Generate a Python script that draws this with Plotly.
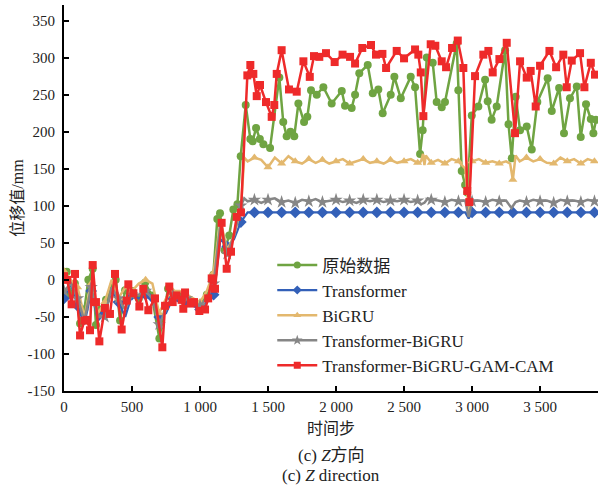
import plotly.graph_objects as go

# ---------------- data ----------------
orig_x = [0, 20, 50, 80, 118, 150, 179, 211, 235, 270, 309, 363, 380, 412, 449, 500, 550, 596, 645, 701,
          743, 765, 800, 850, 900, 950, 1000, 1050, 1098, 1127, 1147, 1180, 1215, 1245, 1275, 1299, 1336,
          1370, 1387, 1412, 1440, 1466, 1515, 1583, 1612, 1637, 1665, 1693, 1723, 1765, 1789, 1816, 1858,
          1907, 1968, 2042, 2066, 2115, 2140, 2171, 2233, 2270, 2311, 2343, 2402, 2429, 2476, 2549, 2581,
          2618, 2637, 2667, 2711, 2740, 2777, 2801, 2887, 2899, 2924, 2949, 2965, 2998, 3046, 3096, 3115,
          3144, 3181, 3243, 3268, 3292, 3321, 3353, 3402, 3439, 3480, 3556, 3586, 3640, 3676, 3720, 3770,
          3799, 3838, 3873, 3892, 3912]
orig_y = [5, 11, -20, -5, -59, -40, 0, 15, -61, -40, -27, -8, 0, -55, -14, -15, -25, -4, -21, -79,
          -35, -12, -25, -22, -28, -30, -35, -20, 7, 82, 90, 40, 60, 95, 102, 167, 236,
          190, 187, 205, 190, 183, 178, 273, 213, 194, 200, 194, 238, 213, 220, 256, 250,
          260, 238, 255, 235, 232, 250, 279, 290, 252, 257, 225, 250, 274, 245, 274, 260,
          170, 202, 300, 293, 240, 233, 240, 319, 256, 147, 128, 118, 222, 234, 270, 241,
          216, 234, 310, 210, 164, 247, 202, 207, 176, 240, 272, 228, 259, 198, 245, 261,
          193, 237, 217, 198, 216]

transformer_x = [0, 50, 100, 150, 200, 250, 300, 350, 400, 450, 500, 550, 600, 650, 700, 750, 800, 850,
                 900, 950, 1000, 1050, 1100, 1150, 1200, 1250, 1300, 1350, 1400, 1500, 1600, 1700, 1800,
                 1900, 2000, 2100, 2200, 2300, 2400, 2500, 2600, 2700, 2800, 2900, 2950, 2975, 3000, 3100,
                 3200, 3300, 3400, 3500, 3600, 3700, 3800, 3900]
transformer_y = [-25, -5, -35, -60, -15, -55, -45, -15, -30, -50, -20, -25, -20, -30, -50, -45, -25, -30,
                 -30, -35, -40, -30, -20, 55, 45, 55, 78, 91, 91, 91, 91, 91, 91,
                 91, 91, 91, 91, 91, 91, 91, 91, 91, 91, 91, 91, 83, 91, 91,
                 91, 91, 91, 91, 91, 91, 91, 91]

bigru_x = [0, 50, 100, 150, 200, 250, 300, 350, 400, 450, 500, 550, 600, 650, 700, 750, 800, 850, 900,
           950, 1000, 1050, 1100, 1150, 1200, 1250, 1300, 1325, 1350, 1400, 1450, 1500, 1550, 1600, 1650,
           1700, 1750, 1800, 1850, 1900, 1950, 2000, 2050, 2100, 2150, 2200, 2250, 2300, 2350, 2400, 2450,
           2500, 2550, 2600, 2625, 2640, 2650, 2660, 2700, 2750, 2800, 2850, 2900, 2950, 2975, 2990, 3000,
           3050, 3100, 3150, 3200, 3250, 3280, 3300, 3320, 3350, 3400, 3450, 3500, 3550, 3600, 3650, 3700,
           3750, 3800, 3850, 3900]
bigru_y = [12, 0, -10, -50, -5, -45, -30, 0, -25, -10, -15, -5, 0, -5, -45, -25, -15, -15, -20,
           -25, -30, -15, 10, 80, 40, 60, 95, 165, 160, 165, 162, 152, 165, 157, 167,
           160, 157, 163, 158, 162, 157, 160, 163, 157, 160, 163, 158, 160, 157, 162, 158,
           160, 163, 158, 160, 170, 155, 168, 158, 162, 157, 163, 160, 150, 90, 165, 160,
           163, 158, 160, 157, 160, 157, 135, 168, 160, 165, 160, 163, 158, 157, 165, 160,
           163, 157, 163, 160]

tb_x = [0, 50, 100, 150, 200, 250, 300, 350, 400, 450, 500, 550, 600, 650, 700, 750, 800, 850, 900,
        950, 1000, 1050, 1100, 1150, 1200, 1250, 1300, 1325, 1350, 1400, 1450, 1500, 1550, 1600, 1650,
        1700, 1750, 1800, 1850, 1900, 1950, 2000, 2050, 2100, 2150, 2200, 2250, 2300, 2350, 2400, 2450,
        2500, 2550, 2600, 2625, 2650, 2675, 2700, 2750, 2800, 2850, 2900, 2950, 2975, 3000, 3050, 3100,
        3150, 3200, 3250, 3290, 3320, 3350, 3400, 3450, 3500, 3550, 3600, 3650, 3700, 3750, 3800, 3850,
        3900]
tb_y = [-15, -5, -25, -55, -10, -50, -50, -10, -25, -40, -20, -20, -15, -25, -60, -40, -20, -25, -25,
        -30, -35, -25, -5, 75, 35, 60, 100, 110, 106, 108, 104, 108, 110, 105, 107,
        104, 108, 106, 109, 105, 107, 108, 105, 107, 104, 108, 106, 108, 105, 107, 106,
        108, 105, 107, 102, 104, 110, 108, 107, 105, 108, 106, 107, 85, 106, 107, 105,
        108, 106, 107, 97, 105, 107, 105, 108, 106, 107, 104, 108, 106, 107, 105, 108,
        106]

tbgc_x = [0, 24, 56, 81, 118, 150, 170, 191, 211, 235, 260, 301, 338, 375, 424, 461, 473, 510, 554, 583,
          620, 669, 723, 743, 774, 799, 828, 865, 877, 890, 931, 956, 995, 1037, 1060, 1086, 1110, 1159,
          1196, 1228, 1270, 1301, 1348, 1370, 1392, 1417, 1441, 1485, 1527, 1546, 1564, 1600, 1654, 1711,
          1760, 1807, 1838, 1877, 1926, 1990, 2048, 2103, 2140, 2193, 2257, 2294, 2341, 2368, 2446, 2500,
          2581, 2605, 2623, 2642, 2696, 2730, 2777, 2809, 2853, 2895, 2936, 2965, 2980, 3022, 3083, 3120,
          3152, 3201, 3255, 3316, 3353, 3402, 3431, 3468, 3500, 3569, 3618, 3671, 3696, 3733, 3794, 3826,
          3873, 3904]
tbgc_y = [5, 0, -33, 8, -75, -55, -54, -68, 20, -30, -83, -38, -46, 8, -67, -28, -6, -18, -36, -12,
          -41, -25, -91, -35, -9, -30, -21, -27, -39, -17, -32, -30, -42, -40, -25, 2, -12, 77,
          15, 38, 85, 91, 276, 290, 278, 248, 263, 240, 220, 236, 278, 310, 257, 254,
          295, 274, 302, 301, 306, 294, 304, 301, 292, 313, 317, 304, 305, 286, 309, 299,
          311, 304, 280, 221, 318, 316, 295, 287, 313, 323, 286, 120, 105, 275, 304, 309,
          280, 298, 320, 198, 295, 273, 282, 234, 289, 309, 287, 304, 260, 296, 306, 260,
          293, 277]

names = ["原始数据", "Transformer", "BiGRU", "Transformer-BiGRU", "Transformer-BiGRU-GAM-CAM"]
x_tick_vals = [0, 500, 1000, 1500, 2000, 2500, 3000, 3500]
x_tick_text = ["0", "500", "1 000", "1 500", "2 000", "2 500", "3 000", "3 500"]
y_tick_vals = [-150, -100, -50, 0, 50, 100, 150, 200, 250, 300, 350]
y_tick_text = ["-150", "-100", "-50", "0", "50", "100", "150", "200", "250", "300", "350"]

SERIF = "'Liberation Serif', 'Times New Roman', 'Noto Sans CJK SC', serif"
TXT = "#222222"

styles = [
    dict(color="#6FA442", symbol="circle", width=2.5, size=8, every=1),
    dict(color="#3360B8", symbol="diamond", width=2.2, size=9, every=100),
    dict(color="#E3B86E", symbol="triangle-up", width=2.5, size=8, every=100),
    dict(color="#868686", symbol="star", width=2.5, size=10, every=100),
    dict(color="#EE2A2A", symbol="square", width=2.5, size=8, every=1),
]
legend_sizes = [7, 7, 7, 8, 7]
series = [(orig_x, orig_y), (transformer_x, transformer_y), (bigru_x, bigru_y),
          (tb_x, tb_y), (tbgc_x, tbgc_y)]

fig = go.Figure()
for (xs, ys), st, nm, lsz in zip(series, styles, names, legend_sizes):
    if st["every"] == 1:
        sizes = st["size"]
    else:
        sizes = [st["size"] if x % st["every"] == 0 else 0 for x in xs]
    fig.add_trace(go.Scatter(x=xs, y=ys, name=nm, mode="lines+markers", legendgroup=nm,
                             showlegend=False,
                             line=dict(color=st["color"], width=st["width"]),
                             marker=dict(symbol=st["symbol"], size=sizes, color=st["color"],
                                         opacity=1, line=dict(width=0))))
    # legend entry (draws nothing in the plot area)
    fig.add_trace(go.Scatter(x=[None], y=[None], name=nm, mode="lines+markers", legendgroup=nm,
                             line=dict(color=st["color"], width=st["width"]),
                             marker=dict(symbol=st["symbol"], size=lsz, color=st["color"],
                                         opacity=1, line=dict(width=0))))

fig.update_layout(
    width=601, height=488,
    margin=dict(l=64, r=3, t=5, b=97),
    paper_bgcolor="white", plot_bgcolor="white",
    font=dict(family=SERIF, size=15, color=TXT),
    showlegend=True,
    legend=dict(x=0.39, y=0.372, xanchor="left", yanchor="top",
                bgcolor="rgba(0,0,0,0)", borderwidth=0,
                font=dict(family=SERIF, size=17, color=TXT),
                itemsizing="trace", itemwidth=40, tracegroupgap=0),
    xaxis=dict(range=[0, 3926], tickvals=x_tick_vals, ticktext=x_tick_text,
               showgrid=False, zeroline=False, showline=True, linecolor="black", linewidth=2,
               ticks="inside", ticklen=5, tickwidth=2, tickcolor="black",
               tickfont=dict(family=SERIF, size=15, color=TXT), ticklabelstandoff=1),
    yaxis=dict(range=[-150, 371], tickvals=y_tick_vals, ticktext=y_tick_text,
               showgrid=False, zeroline=False, showline=True, linecolor="black", linewidth=2,
               ticks="inside", ticklen=5, tickwidth=2, tickcolor="black",
               tickfont=dict(family=SERIF, size=15, color=TXT), ticklabelstandoff=4,
               title=dict(text="位移值/mm", font=dict(family=SERIF, size=16, color=TXT), standoff=0)),
)

fig.add_annotation(text="时间步", xref="paper", yref="paper", x=0.5, y=0, yshift=-37,
                   yanchor="middle", showarrow=False, font=dict(family=SERIF, size=16, color=TXT))
fig.add_annotation(text="(c) <i>Z</i>方向", xref="paper", yref="paper", x=0.5, y=0, yshift=-64,
                   yanchor="middle", showarrow=False, font=dict(family=SERIF, size=17, color=TXT))
fig.add_annotation(text="(c) <i>Z</i> direction", xref="paper", yref="paper", x=0.5, y=0, yshift=-84,
                   yanchor="middle", showarrow=False, font=dict(family=SERIF, size=17, color=TXT))

fig.write_html("out.html")
